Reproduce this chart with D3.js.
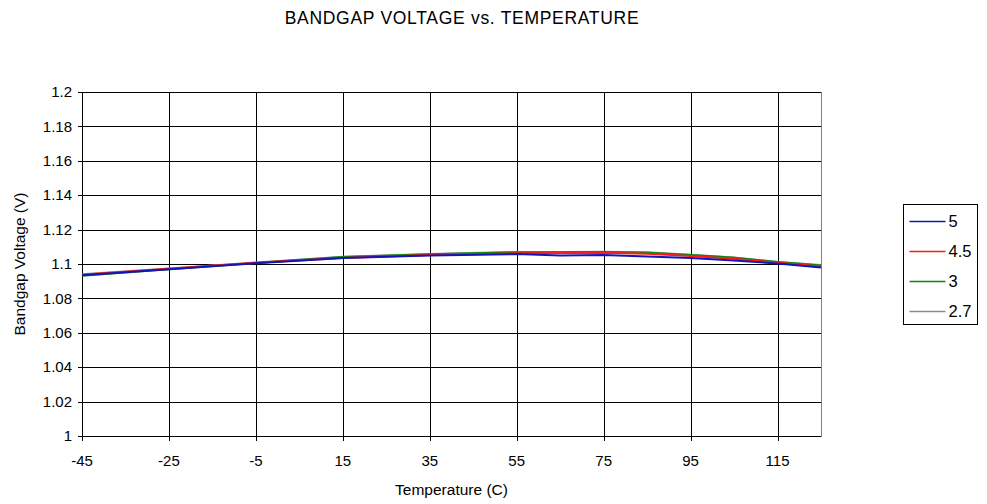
<!DOCTYPE html>
<html>
<head>
<meta charset="utf-8">
<script src="https://cdn.jsdelivr.net/npm/d3@7"></script>
<style>
  body { margin: 0; background: #fff; }
  text { font-family: "Liberation Sans", Arial, sans-serif; fill: #000; }
</style>
</head>
<body>
<div id="chart"></div>
<script>
// temperatures (C)
const temps = [-45, -25, -5, 15, 35, 55, 65, 75, 85, 95, 105, 115, 125];

// bandgap voltage per supply voltage
const v5   = [1.0935, 1.0970, 1.1005, 1.1035, 1.1050, 1.1058, 1.1050, 1.1052, 1.1043, 1.1035, 1.1020, 1.1003, 1.0980];
const v4_5 = [1.0937, 1.0972, 1.1007, 1.1035, 1.1052, 1.1062, 1.1064, 1.1065, 1.1060, 1.1046, 1.1030, 1.1008, 1.0986];
const v3   = [1.0932, 1.0970, 1.1006, 1.1040, 1.1056, 1.1068, 1.1069, 1.1070, 1.1066, 1.1053, 1.1036, 1.1011, 1.0992];
const v2_7 = [1.0940, 1.0974, 1.1009, 1.1042, 1.1058, 1.1070, 1.1070, 1.1071, 1.1068, 1.1054, 1.1038, 1.1012, 1.0994];

const seriesNames = ["5", "4.5", "3", "2.7"];
const seriesColors = ["#1414b8", "#ff1a1a", "#0a8a0a", "#8c8c8c"];

const xTicks = [-45, -25, -5, 15, 35, 55, 75, 95, 115];
const yTicks = [1, 1.02, 1.04, 1.06, 1.08, 1.1, 1.12, 1.14, 1.16, 1.18, 1.2];

const W = 987, H = 504;
const margin = {top: 92, right: 166, bottom: 68, left: 82};
const width = W - margin.left - margin.right;
const height = H - margin.top - margin.bottom;

const svg = d3.select("#chart").append("svg")
  .attr("width", W).attr("height", H);

const g = svg.append("g")
  .attr("transform", "translate(" + margin.left + "," + margin.top + ")");

const x = d3.scaleLinear().domain([-45, 125]).range([0, width]);
const y = d3.scaleLinear().domain([1, 1.2]).range([height, 0]);

// frame (top & right gray)
g.append("rect")
  .attr("x", 0.5).attr("y", 0.5)
  .attr("width", width).attr("height", height)
  .attr("fill", "none").attr("stroke", "#808080");

// horizontal gridlines
g.selectAll(".hgrid").data(yTicks).enter().append("line")
  .attr("x1", -4).attr("x2", width)
  .attr("y1", d => Math.round(y(d)) + 0.5).attr("y2", d => Math.round(y(d)) + 0.5)
  .attr("stroke", "#000");

// vertical gridlines
g.selectAll(".vgrid").data(xTicks).enter().append("line")
  .attr("x1", d => Math.round(x(d)) + 0.5).attr("x2", d => Math.round(x(d)) + 0.5)
  .attr("y1", 0).attr("y2", height + 5)
  .attr("stroke", "#000");

// axis lines
g.append("line").attr("x1", 0.5).attr("x2", 0.5).attr("y1", 0).attr("y2", height)
  .attr("stroke", "#000");
g.append("line").attr("x1", 0).attr("x2", width).attr("y1", height + 0.5).attr("y2", height + 0.5)
  .attr("stroke", "#000");

// tick labels
g.selectAll(".ylab").data(yTicks).enter().append("text")
  .attr("x", -10).attr("y", d => y(d)).attr("dy", "0.35em")
  .attr("text-anchor", "end").style("font-size", "15px")
  .text(d => d3.format("")(d));

g.selectAll(".xlab").data(xTicks).enter().append("text")
  .attr("x", d => x(d)).attr("y", height + 30)
  .attr("text-anchor", "middle").style("font-size", "15px")
  .text(d => d);

// series
const allSeries = [v5, v4_5, v3, v2_7];
const line = d3.line()
  .x((d, i) => x(temps[i]))
  .y(d => y(d));

// gray drawn first, blue last
[3, 2, 1, 0].forEach(function(k) {
  g.append("path")
    .datum(allSeries[k])
    .attr("d", line)
    .attr("fill", "none")
    .attr("stroke", seriesColors[k])
    .attr("stroke-width", 2);
});

// titles
svg.append("text")
  .attr("x", 462).attr("y", 24)
  .attr("text-anchor", "middle").style("font-size", "17.5px")
  .style("letter-spacing", "0.7px")
  .text("BANDGAP VOLTAGE vs. TEMPERATURE");

svg.append("text")
  .attr("x", margin.left + width / 2).attr("y", 495)
  .attr("text-anchor", "middle").style("font-size", "15.5px")
  .text("Temperature (C)");

svg.append("text")
  .attr("transform", "translate(25," + (margin.top + height / 2) + ") rotate(-90)")
  .attr("text-anchor", "middle").style("font-size", "15.5px")
  .text("Bandgap Voltage (V)");

// legend
const legend = svg.append("g").attr("transform", "translate(903.5,204.5)");
legend.append("rect")
  .attr("width", 74).attr("height", 120)
  .attr("fill", "#fff").attr("stroke", "#000");

const items = legend.selectAll(".item").data(seriesNames).enter().append("g")
  .attr("transform", (d, i) => "translate(0," + (17 + i * 30) + ")");
items.append("line")
  .attr("x1", 6).attr("x2", 42).attr("y1", 0).attr("y2", 0)
  .attr("stroke", (d, i) => seriesColors[i]).attr("stroke-width", 1.6);
items.append("text")
  .attr("x", 45).attr("y", 0).attr("dy", "0.35em")
  .style("font-size", "16.5px")
  .text(d => d);
</script>
</body>
</html>
